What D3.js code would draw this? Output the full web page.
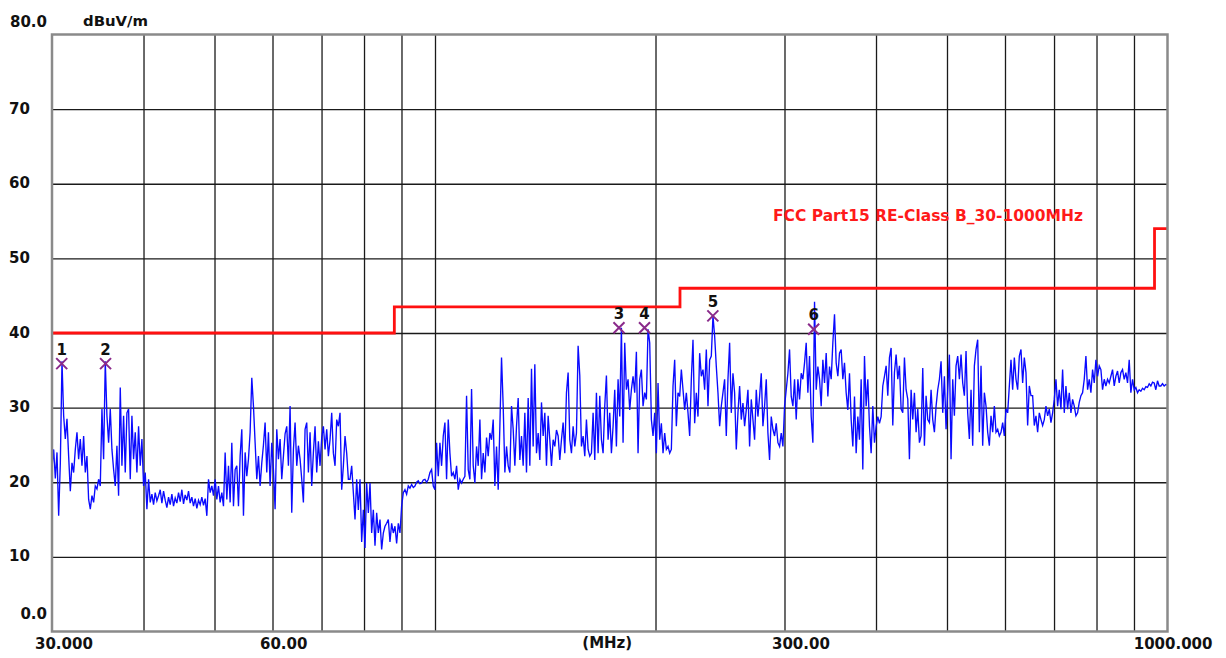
<!DOCTYPE html>
<html><head><meta charset="utf-8">
<script src="https://cdn.jsdelivr.net/npm/d3@7"></script>
<style>
body{margin:0;background:#fff;}
text{font-family:"DejaVu Sans",sans-serif;font-weight:bold;}
</style>
</head><body>
<svg id="c" width="1226" height="658"></svg>
<script>
// ---------- data ----------
const xTickValues = [30, 60, 300, 1000];
const xTickLabels = ["30.000", "60.00", "300.00", "1000.000"];
const xGridValues = [40, 50, 60, 70, 80, 90, 100, 200, 300, 400, 500, 600, 700, 800, 900];
const yTickValues = [0, 10, 20, 30, 40, 50, 60, 70, 80];
const yTickLabels = ["0.0", "10", "20", "30", "40", "50", "60", "70", "80.0"];
const unitLabel = "dBuV/m";
const freqLabel = "(MHz)";
const limitName = "FCC Part15 RE-Class B_30-1000MHz";
const limitFreq  = [30, 88, 88, 216, 216, 960, 960, 1000];
const limitLevel = [40, 40, 43.5, 43.5, 46, 46, 54, 54];
const markerNo    = [1, 2, 3, 4, 5, 6];
const markerFreq  = [30.93, 35.5, 178.3, 193.2, 239.5, 328.8];
const markerLevel = [35.9, 35.9, 40.7, 40.7, 42.3, 40.5];
const sweepStart = 30, sweepStop = 1000;

// measured trace (dBuV/m), sweep points from 30 MHz to 1000 MHz
const levelsBand1 = [
22.0,24.4,20.5,24.0,15.5,22.5,36.2,28.9,25.8,28.5,
23.5,18.8,22.6,21.3,24.4,26.7,23.1,25.8,22.2,26.2,
21.3,23.5,17.7,16.4,18.2,17.3,19.5,19.1,20.4,19.5,
29.8,23.1,36.2,28.9,25.3,29.8,24.4,21.7,19.5,24.9,
18.2,32.7,22.2,28.9,21.3,29.3,29.8,20.4,28.9,23.1,
26.7,21.3,27.5,22.2,25.8,19.5,21.3,16.4,20.4,17.3,
18.4,17.0,18.6,17.5,18.2,19.0,17.2,18.8,17.6,16.6,
18.0,17.0,18.4,16.8,17.9,17.2,18.6,17.4,19.0,17.1,
18.3,17.6,18.8,17.2,18.0,16.8,17.8,16.5,17.6,17.0,
18.0,16.9,17.8,
15.5,20.4,18.6,19.5,18.2,20.4,17.7,19.5,17.3,18.6,
16.8,24.0,17.7,22.2,17.3,25.3,16.8,21.7,22.2,16.8,
23.5,27.1,15.5,24.0,20.8,23.1,26.7,34.0,30.2,25.3,
20.4,23.5,19.5,22.6,25.0,28.0,21.3,26.7,19.5,25.3,
21.7,16.4,27.1,23.1,25.8,20.4,23.5,26.5,27.5,22.2,
30.2,15.9,24.4,28.0,22.2,24.9,23.1,20.4,17.3,27.1,
28.0,21.3,26.7,19.5,24.0,27.5,21.3,25.5,22.2,26.0,
27.5,24.4,27.1,23.5];
const levelsBand2 = [
25.7,29.3,23.9,22.2,28.4,27.5,29.3,19.0,22.2,26.2,
23.9,20.4,20.4,22.2,18.6,15.0,20.4,16.3,20.4,12.0,
16.3,11.2,19.9,15.9,19.9,13.2,16.3,11.5,15.9,13.2,
15.0,11.0,13.2,14.1,14.5,15.0,12.0,14.5,13.2,14.1,
11.8,14.5,13.2,16.8,18.6,19.0,18.4,19.5,19.2,19.7,
19.3,19.5,20.0,20.2,19.8,19.9,20.3,20.4,20.0,20.4,
21.3,21.7,19.5,19.0,25.3,20.8,25.3,22.2,26.2,28.0,
20.4,28.4,23.9,20.8,21.3,20.4,22.2,19.0,20.4,19.9,
20.4,20.8,31.6,21.7,20.4,32.5,22.2,19.9,24.8,22.2,
28.4,20.4,23.9,21.3,26.0,23.5,26.6,25.7,28.4,19.5,
24.8,19.0,27.5,36.7,30.2,21.3,24.8,22.2,21.3,30.2,
27.1,22.2,27.5,31.3,23.0,26.2,22.2,29.3,21.3,31.3,
22.2,35.2,24.8,35.8,23.9,26.6,23.0,30.7,26.2,29.3,
22.2,28.9,25.7,22.2,25.7,24.8,27.0,26.2,23.0,25.7,
28.0,23.9,32.0,34.7,25.7,23.9,27.5,24.8,26.6,38.3,
34.3,24.8,26.2,23.5,28.4,24.4,23.5,23.9,29.3,23.0,
32.0,23.9,31.6,25.7,23.9,30.2,34.3];
const levelsBand3 = [
25.7,29.3,23.9,27.5,32.4,24.8,33.8,28.8,40.7,25.3,
38.7,32.4,33.8,29.7,32.4,34.2,32.0,37.5,23.9,33.8,
35.1,30.2,32.0,31.1,40.5,38.7,28.4,26.2,29.3,23.9,
33.3,25.7,27.9,23.9,26.6,24.4,24.8,23.9,24.4,32.9,
36.4,27.5,32.0,31.5,35.1,32.4,29.7,32.0,29.3,26.2,
33.8,39.1,27.9,32.0,28.8,37.3,34.2,35.1,32.4,37.8,
30.2,36.4,36.9,42.3,39.6,35.5,32.0,27.5,30.2,32.0,
33.8,26.2,33.8,38.7,29.3,34.6,32.0,24.4,29.3,32.9,
28.4,30.6,27.5,29.7,32.4,24.8,31.1,28.4,25.7,32.4,
28.8,31.5,34.6,27.5,30.2,33.8,26.6,23.0,28.8,27.1,
26.2,27.9,25.3,24.8,26.6,24.8,30.2,32.4,34.6,37.8,
31.5,30.2,33.8,28.4,33.8,31.1,34.6,33.8,36.0,38.7,
32.0,36.9,28.8,25.3,44.2,32.4,35.5,33.8,30.2,36.4,
33.3,37.3,31.5,35.5,33.8,38.7,42.5,36.0,34.2,37.3,
37.8,33.8,36.0,32.0,29.7,34.6,28.4,24.8,31.5,23.9,
28.8,25.7,33.8,21.7,36.9,30.2,33.8,27.5,23.9,30.2,
25.3,27.5,28.8,27.9,28.8,32.9,34.2];
const levelsBand4 = [
35.6,31.6,36.7,38.0,27.6,34.7,37.1,33.8,35.6,29.8,
29.3,36.7,32.4,31.1,23.1,32.4,28.4,32.0,26.7,29.8,
25.3,26.2,35.3,24.9,31.6,28.4,28.0,32.4,28.4,26.7,
30.2,32.4,33.8,36.2,29.3,34.2,27.1,32.4,37.1,23.1,
33.8,28.9,35.6,36.9,33.8,37.1,33.3,31.6,37.6,29.3,
25.8,32.4,24.9,35.6,37.8,39.1,26.7,35.6,24.9,32.0,
30.2,26.7,24.9,28.9,26.7,30.2,26.7,27.1,26.2,26.7,
28.0,26.2,29.8,29.3,32.9,36.4,32.4,36.7,33.8,32.4,
36.9,37.8,33.3,36.7,34.7,27.6,32.9,31.6,31.6,27.6,
28.9,26.7,29.3,28.4,27.6,28.4,30.2,28.9,29.8,28.0,
29.3,31.1,33.8,30.2,32.4,29.8,35.1,29.3,32.9,29.8,
32.0,29.3,31.1,30.2,28.9,29.3,30.7,31.6,32.0,33.8,
36.9,32.4,33.8,32.0,35.1,33.3,36.4,34.2,35.6,35.1,
32.4,33.8,32.9,33.8,33.3,34.2,35.1,32.9,34.2,34.9,
33.3,34.7,35.1,33.8,34.7,33.3,36.4,32.0,33.8,32.4,
32.7,32.0,32.4,32.2,32.6,32.4,32.8,32.7,33.2,32.9,
33.4,33.3,32.4,33.6,32.9,32.9,33.2,32.9,33.1,33.0];

// ---------- chart ----------
const svg = d3.select("#c");
const L = 52, R = 1167.5, T = 34.5, B = 631.5;
const x = d3.scaleLog().domain([sweepStart, sweepStop]).range([L, R]);
const y = d3.scaleLinear().domain([0, 80]).range([B, T]);

// grid
const gx = svg.append("g").attr("transform", `translate(0,${B})`)
  .call(d3.axisBottom(x).tickValues(xGridValues).tickSize(-(B - T)).tickFormat(""));
const gy = svg.append("g").attr("transform", `translate(${L},0)`)
  .call(d3.axisLeft(y).tickValues(yTickValues.slice(1, -1)).tickSize(-(R - L)).tickFormat(""));
[gx, gy].forEach(g => {
  g.select(".domain").remove();
  g.selectAll(".tick line").attr("stroke", "#1a1a1a").attr("stroke-width", 1.3);
});

// clip
svg.append("clipPath").attr("id", "pc").append("rect")
  .attr("x", L).attr("y", T).attr("width", R - L).attr("height", B - T);

// limit line
const limitPts = limitFreq.map((f, i) => [f, limitLevel[i]]);
svg.append("path").datum(limitPts)
  .attr("d", d3.line().x(d => x(d[0])).y(d => y(d[1])))
  .attr("fill", "none").attr("stroke", "#ff1010").attr("stroke-width", 2.8)
  .attr("clip-path", "url(#pc)");

// trace
const levels = levelsBand1.concat(levelsBand2, levelsBand3, levelsBand4);
const n = levels.length;
const ratio = sweepStop / sweepStart;
const trace = levels.map((v, i) => [sweepStart * Math.pow(ratio, i / (n - 1)), v]);
svg.append("path").datum(trace)
  .attr("d", d3.line().x(d => x(d[0])).y(d => y(d[1])))
  .attr("fill", "none").attr("stroke", "#0a0aff").attr("stroke-width", 1.35)
  .attr("stroke-linejoin", "miter")
  .attr("clip-path", "url(#pc)");

// border
svg.append("rect").attr("x", L).attr("y", T).attr("width", R - L).attr("height", B - T)
  .attr("fill", "none").attr("stroke", "#8a8a8a").attr("stroke-width", 2.5);

// markers
const mk = svg.append("g").selectAll("g").data(markerNo).join("g")
  .attr("transform", (d, i) => `translate(${x(markerFreq[i])},${y(markerLevel[i])})`);
mk.append("path").attr("d", "M-5.5,-5.5L5.5,5.5M-5.5,5.5L5.5,-5.5")
  .attr("stroke", "#8a2a8a").attr("stroke-width", 2).attr("fill", "none");
mk.append("text").attr("y", -9).attr("text-anchor", "middle")
  .attr("font-size", 15).attr("fill", "#111").text(d => d);

// y labels
svg.append("g").selectAll("text").data(yTickValues).join("text")
  .attr("font-size", 15).attr("fill", "#111")
  .attr("x", (d, i) => (i === 0 || i === yTickValues.length - 1) ? 47 : 9)
  .attr("text-anchor", (d, i) => (i === 0 || i === yTickValues.length - 1) ? "end" : "start")
  .attr("y", (d, i) => i === 0 ? y(d) - 12.5 : (i === yTickValues.length - 1 ? y(d) - 8 : y(d) + 4.5))
  .text((d, i) => yTickLabels[i]);

// unit
svg.append("text").attr("x", 83).attr("y", 25.5).attr("font-size", 14)
  .attr("textLength", 65).attr("lengthAdjust", "spacingAndGlyphs")
  .attr("fill", "#111").text(unitLabel);

// x labels
svg.append("g").selectAll("text").data(xTickValues).join("text")
  .attr("font-size", 15).attr("fill", "#111").attr("y", 649)
  .attr("x", (d, i) => i === 0 ? x(d) - 17 : (i === xTickValues.length - 1 ? x(d) + 45 : x(d) - 12.5))
  .attr("text-anchor", (d, i) => i === xTickValues.length - 1 ? "end" : "start")
  .text((d, i) => xTickLabels[i]);
svg.append("text").attr("x", (L + R) / 2 - 2.5).attr("y", 648).attr("text-anchor", "middle")
  .attr("font-size", 15).attr("fill", "#111").text(freqLabel);

// limit name
svg.append("text").attr("x", 773).attr("y", 221).attr("font-size", 15)
  .attr("textLength", 310).attr("lengthAdjust", "spacingAndGlyphs")
  .attr("fill", "#ff1a1a").text(limitName);
</script>
</body></html>
